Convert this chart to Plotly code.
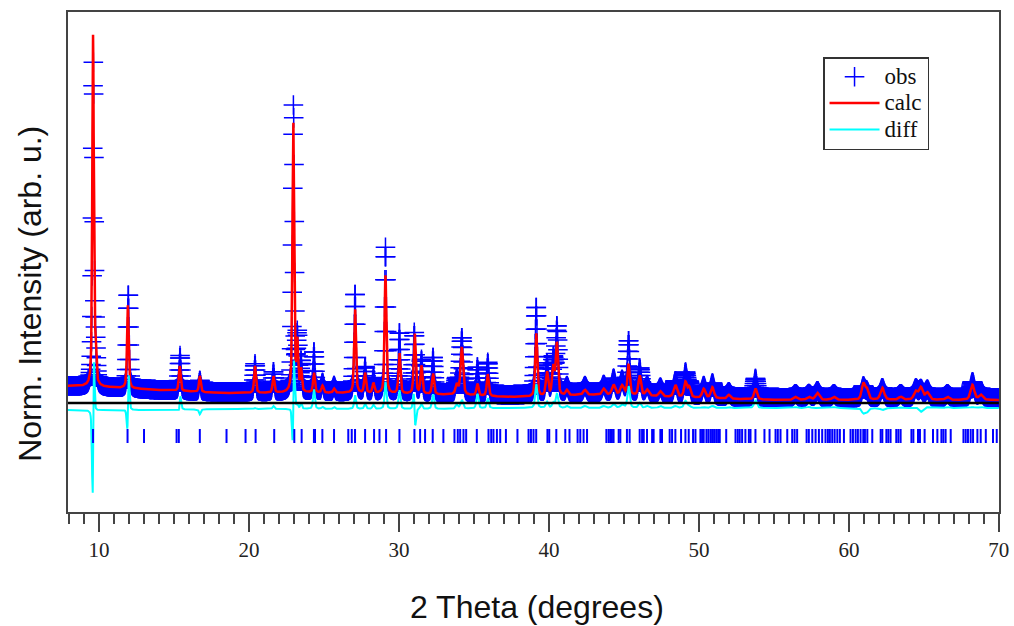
import numpy as np
import plotly.graph_objects as go

# ---- data (intensity in arbitrary units) ----
X_START, X_END, STEP = 7.92, 70.0, 0.02

BG_X = [7.92, 10, 14, 18, 22, 26, 30, 34, 37, 39, 42, 45, 48, 52, 56, 60, 65, 70]
CALC_BG = [17, 16, 13, 10, 10, 10, 9, 8, 6, 6, 8, 8, 6, 4, 3, 3, 3, 3]
OBS_BG = [17, 16, 13, 11, 11, 11, 10, 9, 8, 8, 10, 10, 8, 6, 5, 5, 5, 5]

PEAK_POS = [9.60, 9.76, 11.92, 15.38, 16.72, 20.40, 21.63, 22.95, 23.22, 23.47,
            24.33, 24.90, 25.67, 27.07, 27.74, 28.30, 29.10, 30.03, 31.05, 31.50,
            32.27, 33.85, 34.19, 35.23, 35.92, 39.15, 39.87, 40.29, 40.53, 41.20,
            42.40, 43.65, 44.31, 44.87, 45.31, 46.05, 46.55, 47.43, 48.43, 49.10,
            49.35, 50.32, 50.90, 51.99, 53.77, 56.44, 57.33, 57.90, 59.00, 60.96,
            61.20, 62.23, 63.45, 64.46, 64.80, 65.23, 66.57, 68.24, 68.80]
CALC_H = [350, 32, 83, 25, 16, 27, 17, 274, 48, 22,
          20, 7, 4, 85, 20, 10, 118, 41, 61, 28,
          21, 10, 47, 12, 22, 64, 24, 28, 52, 5,
          5, 6, 10, 9, 30, 20, 6, 5, 12, 15,
          10, 9, 11, 4, 11, 3, 3, 7, 3, 16,
          10, 12, 3, 8, 12, 7, 3, 15, 5]
OBS_H = [322, 32, 95, 35, 11, 28, 20, 286, 52, 28,
         40, 9, 6, 99, 25, 14, 145, 60, 60, 33,
         36, 14, 56, 27, 32, 88, 30, 33, 66, 7,
         7, 8, 14, 12, 52, 25, 8, 7, 14, 22,
         12, 10, 13, 5, 19, 4, 4, 7, 4, 11,
         6, 10, 4, 9, 8, 8, 4, 16, 6]
FWHM = [0.12, 0.12, 0.13, 0.14, 0.14, 0.14, 0.14, 0.13, 0.13, 0.13,
        0.14, 0.16, 0.16, 0.14, 0.15, 0.16, 0.14, 0.15, 0.15, 0.15,
        0.16, 0.20, 0.20, 0.16, 0.16, 0.16, 0.18, 0.18, 0.18, 0.20,
        0.25, 0.25, 0.25, 0.25, 0.18, 0.20, 0.25, 0.25, 0.25, 0.22,
        0.22, 0.25, 0.25, 0.25, 0.22, 0.30, 0.30, 0.30, 0.30, 0.25,
        0.25, 0.30, 0.30, 0.30, 0.30, 0.30, 0.30, 0.30, 0.30]
OBS_SHIFT = [0.018, 0, 0.03, 0.02, 0, 0, 0, 0.014, 0, 0,
             0, 0, 0, 0, 0, 0, 0, 0, -0.03, 0,
             0, 0, 0, 0, 0, 0, 0, 0, 0, 0,
             0, 0, 0, 0, 0, 0, 0, 0, 0, 0,
             0, 0, 0, 0, 0, 0, 0, 0, 0, 0,
             0, 0, 0, 0, 0, 0, 0, 0, 0]

REFLECTIONS = [9.60, 11.90, 13.00, 15.17, 15.32, 16.72, 18.50, 19.77, 20.44, 21.68,
               23.02, 23.51, 24.33, 24.40, 24.89, 25.67, 26.62, 26.85, 27.07, 27.74,
               28.34, 28.70, 29.14, 30.03, 31.03, 31.41, 31.74, 32.25, 32.96, 33.70,
               33.92, 34.08, 34.30, 34.48, 35.19, 35.97, 36.15, 36.30, 36.53, 36.75,
               37.13, 37.90, 38.64, 38.80, 38.97, 39.15, 39.90, 40.02, 40.49, 41.09,
               41.37, 41.91, 42.09, 42.31, 42.54, 43.83, 43.98, 44.09, 44.20, 44.31,
               44.65, 44.76, 45.20, 45.38, 46.05, 46.21, 46.32, 46.54, 46.88, 46.98,
               47.43, 47.54, 48.05, 48.21, 48.43, 48.81, 49.10, 49.32, 49.61, 49.77,
               50.10, 50.21, 50.32, 50.50, 50.63, 50.77, 50.88, 51.01, 51.15, 51.28,
               51.39, 51.82, 52.44, 52.59, 52.72, 52.88, 53.10, 53.33, 53.44, 53.77,
               54.37, 54.71, 55.11, 55.26, 55.44, 55.89, 56.22, 56.38, 56.55, 57.18,
               57.33, 57.56, 57.78, 58.00, 58.22, 58.44, 58.60, 58.73, 58.89, 59.05,
               59.23, 59.40, 59.67, 60.11, 60.27, 60.45, 60.60, 60.78, 60.96, 61.07,
               61.23, 61.56, 62.12, 62.23, 62.50, 62.63, 62.78, 63.16, 63.30, 63.45,
               64.17, 64.30, 64.61, 64.74, 65.05, 65.61, 65.90, 66.17, 66.30, 66.45,
               66.79, 67.64, 67.79, 67.94, 68.12, 68.28, 68.57, 68.79, 69.13, 69.61,
               69.86]

REFL_LEVEL = -33
DIFF_OFFSET = -7
ETA = 0.5

# ---- build profiles from the peak table ----
tt = np.arange(X_START, X_END + STEP / 2, STEP)


def pseudo_voigt(x, p, w):
    d = (x - p) / w
    lor = 1.0 / (1.0 + 4.0 * d * d)
    gau = np.exp(-4.0 * np.log(2.0) * d * d)
    return ETA * lor + (1 - ETA) * gau


calc = np.interp(tt, BG_X, CALC_BG).astype(float)
obs = np.interp(tt, BG_X, OBS_BG).astype(float)
for p, hc, ho, w, s in zip(PEAK_POS, CALC_H, OBS_H, FWHM, OBS_SHIFT):
    calc += hc * pseudo_voigt(tt, p, w)
    obs += ho * pseudo_voigt(tt, p + s, w)
diff = obs - calc + DIFF_OFFSET

LEG = "<span style='font-size:23px'>%s</span>"

fig = go.Figure()
fig.add_trace(go.Scatter(
    x=tt, y=obs, mode="markers", name=LEG % "obs",
    marker=dict(symbol="cross-thin", size=14, color="#0000ff",
                line=dict(color="#0000ff", width=1.5))))
fig.add_trace(go.Scatter(
    x=tt, y=calc, mode="lines", name=LEG % "calc",
    line=dict(color="#ff0000", width=2.5)))
fig.add_trace(go.Scatter(
    x=tt, y=diff, mode="lines", name=LEG % "diff",
    line=dict(color="#00ffff", width=2)))
fig.add_trace(go.Scatter(
    x=[X_START, X_END], y=[0, 0], mode="lines", showlegend=False,
    line=dict(color="#000000", width=2.5), hoverinfo="skip"))
fig.add_trace(go.Scatter(
    x=REFLECTIONS, y=[REFL_LEVEL] * len(REFLECTIONS), mode="markers",
    showlegend=False,
    marker=dict(symbol="line-ns", size=10, color="#0000ff",
                line=dict(color="#0000ff", width=2))))

axis_col = "#444444"
fig.update_layout(
    width=1014, height=626,
    margin=dict(l=68, r=15, t=12, b=114, autoexpand=False),
    plot_bgcolor="white", paper_bgcolor="white",
    xaxis=dict(range=[7.93, 70.01], showline=True, linecolor=axis_col, linewidth=1.5,
               mirror=True, ticks="outside", ticklen=18, tickwidth=1.5, tickcolor=axis_col,
               tick0=0, dtick=10, showgrid=False, zeroline=False, automargin=False,
               tickfont=dict(family="Liberation Serif", size=21, color="#222222"),
               minor=dict(dtick=1, ticks="outside", ticklen=10, tickwidth=1.5,
                          tickcolor=axis_col, showgrid=False)),
    yaxis=dict(range=[-109, 391], showline=True, linecolor=axis_col, linewidth=1.5,
               mirror=True, ticks="", showticklabels=False, showgrid=False,
               zeroline=False, automargin=False),
    legend=dict(x=0.811, y=0.91, xanchor="left", yanchor="top",
                bgcolor="white", bordercolor="#333333", borderwidth=1.5,
                font=dict(family="Liberation Serif", size=18, color="#111111"),
                itemwidth=50),
    annotations=[
        dict(text="2 Theta (degrees)", xref="paper", yref="paper", x=0.504, y=-0.19,
             xanchor="center", yanchor="middle", showarrow=False,
             font=dict(family="Liberation Sans", size=32, color="#111111")),
        dict(text="Norm. Intensity (arb. u.)", xref="paper", yref="paper", x=-0.041,
             y=0.436, xanchor="center", yanchor="middle", textangle=-90, showarrow=False,
             font=dict(family="Liberation Sans", size=32, color="#111111")),
    ],
)

fig.write_html("out.html")
